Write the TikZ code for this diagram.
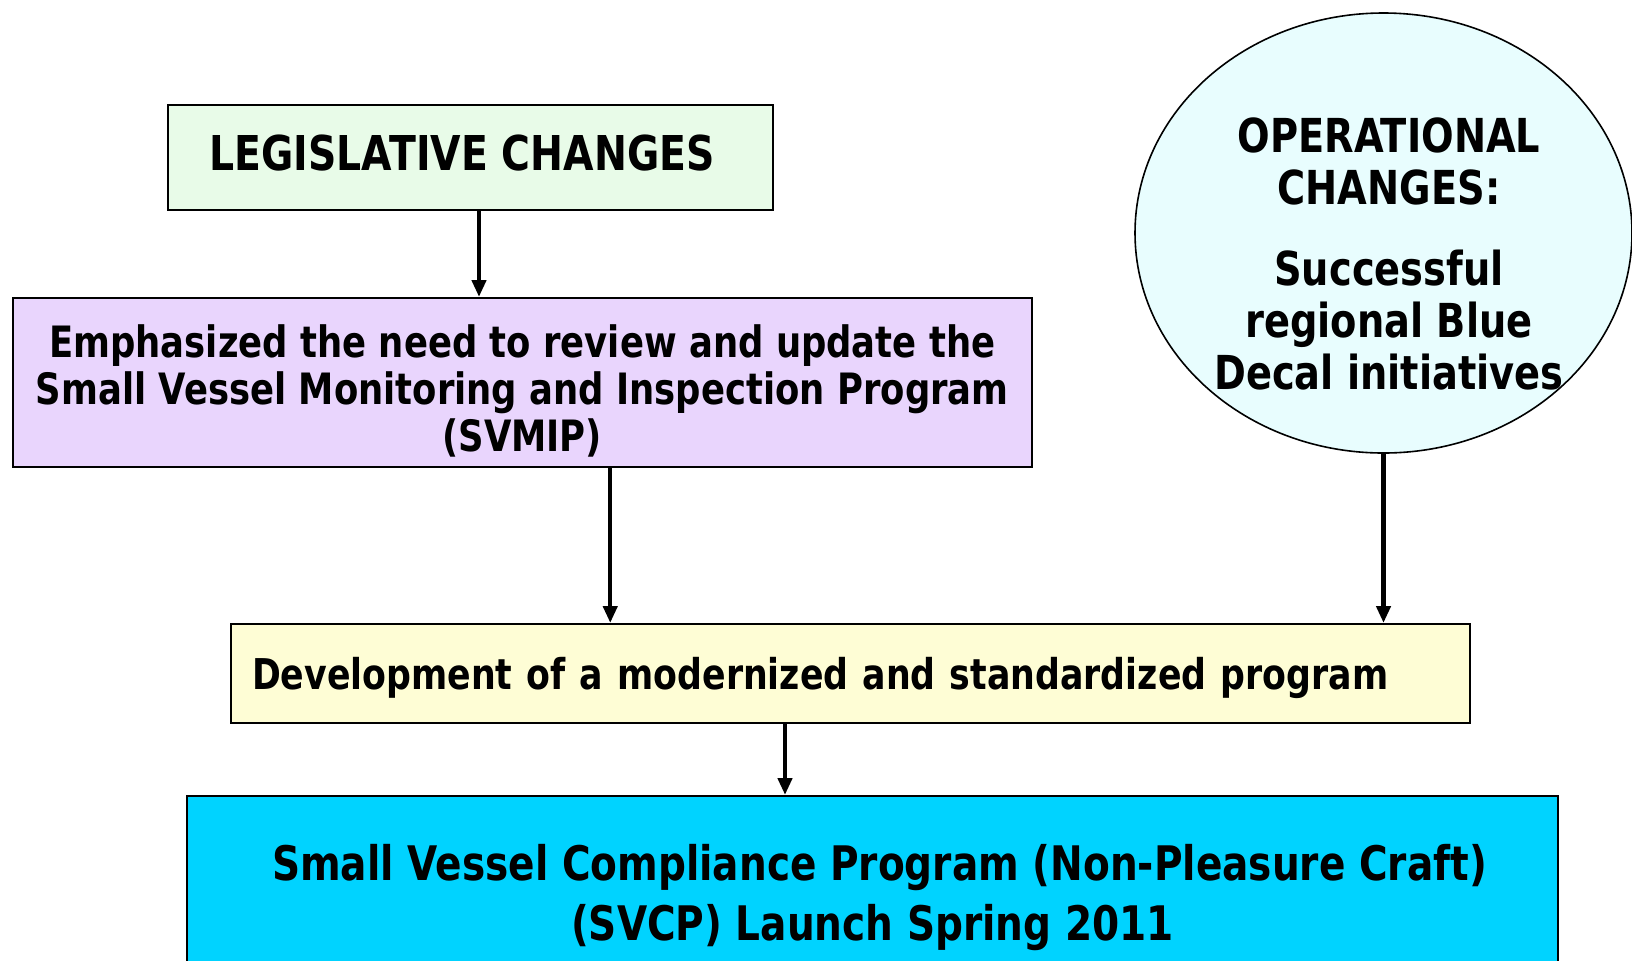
\documentclass[tikz,border=0pt]{standalone}
\usepackage{fontspec}
\setmainfont{DejaVu Sans}[FakeStretch=0.82]
\usetikzlibrary{arrows.meta,shapes.geometric}
\definecolor{legisgreen}{HTML}{E8FBE8}
\definecolor{svmippurple}{HTML}{E9D5FD}
\definecolor{opercyan}{HTML}{E8FDFE}
\definecolor{develyellow}{HTML}{FEFDD5}
\definecolor{svcpblue}{HTML}{00D3FF}
\tikzset{
  box/.style={draw, line width=1pt, inner sep=0pt, align=center},
  flow/.style={-{Triangle[length=8.5pt,width=7pt]}, line width=2.2pt},
}
\begin{document}
\begin{tikzpicture}[x=0.5pt,y=-0.5pt]
  \useasboundingbox (0,0) rectangle (1632,960);
  \clip (0,0) rectangle (1632,960);
  \draw
    (470.5,157.5) node[box, fill=legisgreen, minimum width=302.5pt, minimum height=52.5pt,
      font=\fontsize{24}{28}\selectfont\bfseries] (legis)
      {\rule[-5pt]{0pt}{5pt}LEGISLATIVE CHANGES\hspace*{8.3pt}}
    (522.25,382.5) node[box, fill=svmippurple, minimum width=509.75pt, minimum height=84.5pt,
      font=\fontsize{21.6}{23.5}\selectfont\bfseries] (svmip)
      {\rule{0pt}{25pt}Emphasized the need to review and update the\\Small Vessel Monitoring and Inspection Program\\(SVMIP)}
    (1383.5,233) node[ellipse, draw, line width=0.8pt, fill=opercyan, inner sep=0pt,
      minimum width=248.5pt, minimum height=220pt] (oper) {}
    (1389,254) node[align=center, font=\fontsize{23.4}{26}\selectfont\bfseries] (opertext)
      {OPERATIONAL\\CHANGES:\\[14.5pt]Successful\\regional Blue\\Decal initiatives}
    (850.5,673.5) node[box, fill=develyellow, minimum width=619.5pt, minimum height=49.5pt,
      text width=598.5pt, inner xsep=10.5pt, align=left,
      font=\fontsize{21.2}{25}\selectfont\bfseries] (devel)
      {\rule{0pt}{21pt}Development of a modernized and standardized program}
    (872.5,795) node[box, anchor=north, fill=svcpblue, minimum width=685.5pt, minimum height=102pt,
      font=\fontsize{23.8}{30}\selectfont\bfseries] (svcp)
      {\hspace*{7pt}Small Vessel Compliance Program (Non-Pleasure Craft)\\(SVCP) Launch Spring 2011};
  \begin{scope}[flow]
    \draw ([xshift=4.25pt]legis.south) to ([xshift=4.25pt]legis.south |- svmip.north);
    \draw ([xshift=44pt]svmip.south) to ([xshift=44pt]svmip.south |- devel.north);
    \draw (oper.south) to (oper.south |- devel.north);
    \draw ([xshift=-32.75pt]devel.south) to ([xshift=-32.75pt]devel.south |- svcp.north);
  \end{scope}
\end{tikzpicture}
\end{document}
